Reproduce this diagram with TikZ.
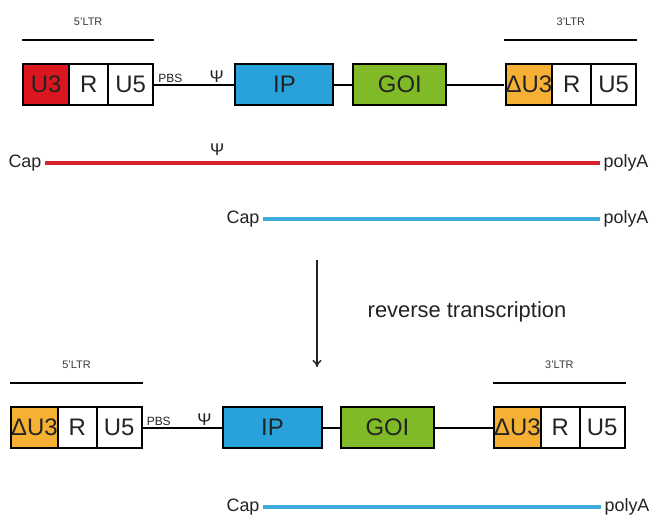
\documentclass[tikz,border=0pt]{standalone}
\usepackage{fontspec}
\setmainfont{Liberation Sans}
\usetikzlibrary{matrix,positioning,arrows.meta}
\definecolor{uredfill}{RGB}{218,22,32}
\definecolor{ipblue}{RGB}{41,161,218}
\definecolor{goigreen}{RGB}{128,186,38}
\definecolor{duorange}{RGB}{246,176,52}
\definecolor{rnared}{RGB}{214,32,42}
\definecolor{rnablue}{RGB}{62,172,222}
\definecolor{txt}{RGB}{35,35,35}
\newcommand\boxfont{\fontsize{24}{28}\selectfont}
\newcommand\rnafont{\fontsize{18}{21}\selectfont}
\tikzset{
  % drei Zellen des LTR nebeneinander
  ltr/.style={matrix of nodes,inner sep=0pt,anchor=north west,
    column sep=-2bp,
    nodes={draw,line width=2bp,minimum height=41bp,inner sep=0pt,
      font=\boxfont,text=txt},
    column 1/.style={nodes={minimum width=46bp}},
    column 2/.style={nodes={minimum width=39bp}},
    column 3/.style={nodes={minimum width=45bp}}
  },
  gen/.style={draw,line width=2bp,minimum height=41bp,font=\boxfont,text=txt},
  link/.style={line width=2bp},
  ltrbar/.style={line width=2.6bp},
  ltrlabel/.style={font=\fontsize{11}{13}\selectfont,text=txt!90},
  small/.style={font=\fontsize{12}{14}\selectfont,text=txt,inner sep=1.5bp},
  psi/.style={font=\fontsize{17}{19}\selectfont,text=txt,inner sep=1bp},
  rna/.style={line width=4.8bp},
  rnaend/.style={font=\rnafont,text=txt,inner sep=3.5bp},
  pfeil/.style={-{To[length=7bp,width=9bp]},line width=1.4bp,txt}
}
\begin{document}
\begin{tikzpicture}[x=1bp,y=-1bp,node distance=80bp]
\useasboundingbox[fill=white] (0,0) rectangle (652,517);
% Provirus oben
  \matrix(A5)[ltr] at (22,63) {|[fill=uredfill]|U3 & R & U5\\};
  \node(IP)[gen,right=of A5,minimum width=98bp,fill=ipblue]{IP};
  \node(GOI)[gen,right=18bp of IP,minimum width=93bp,fill=goigreen]{GOI};
  \matrix(A3)[ltr,anchor=west,right=57bp of GOI] {|[fill=duorange]|ΔU3 & R & U5\\};
  \draw[link](A5)--node[pos=.2,small,above]{PBS}node[pos=.78,psi,above]{Ψ}(IP);
  \draw[link](IP)--(GOI);
  \draw[link](GOI)--(A3);
% LTR-Balken
  \draw[ltrbar]([yshift=23bp]A5.north west)--([yshift=23bp]A5.north east)
    node[midway,ltrlabel,above=10bp]{5'LTR};
  \draw[ltrbar]([yshift=23bp]A3.north west)--([yshift=23bp]A3.north east)
    node[midway,ltrlabel,above=10bp]{3'LTR};
% Transkripte
  \node(cap1)[rnaend] at (25,163){Cap};
  \node(poly1)[rnaend] at (626,163){polyA};
  \draw[rna,rnared](cap1)--node[pos=.31,above=4bp,psi]{Ψ}(poly1);
  \node(cap2)[rnaend] at (243,219){Cap};
  \node(poly2)[rnaend] at (626,219){polyA};
  \draw[rna,rnablue](cap2)--(poly2);
% reverse Transkription
  \coordinate(rtA) at (317,260);
  \coordinate(rtB) at (317,367);
  \draw[pfeil](rtA)--(rtB);
  \node(rt)[font=\fontsize{22}{26}\selectfont,text=txt] at (467,312){reverse transcription};
% Provirus unten
  \matrix(B5)[ltr] at (10,406) {|[fill=duorange]|ΔU3 & R & U5\\};
  \node(IPb)[gen,right=79bp of B5,minimum width=99bp,fill=ipblue]{IP};
  \node(GOIb)[gen,right=17bp of IPb,minimum width=93bp,fill=goigreen]{GOI};
  \matrix(B3)[ltr,anchor=west,right=58bp of GOIb] {|[fill=duorange]|ΔU3 & R & U5\\};
  \draw[link](B5)--node[pos=.2,small,above]{PBS}node[pos=.78,psi,above]{Ψ}(IPb);
  \draw[link](IPb)--(GOIb);
  \draw[link](GOIb)--(B3);
  \draw[ltrbar]([yshift=23bp]B5.north west)--([yshift=23bp]B5.north east)
    node[midway,ltrlabel,above=10bp]{5'LTR};
  \draw[ltrbar]([yshift=23bp]B3.north west)--([yshift=23bp]B3.north east)
    node[midway,ltrlabel,above=10bp]{3'LTR};
  \node(cap3)[rnaend] at (243,507){Cap};
  \node(poly3)[rnaend] at (627,507){polyA};
  \draw[rna,rnablue](cap3)--(poly3);
\end{tikzpicture}
\end{document}
